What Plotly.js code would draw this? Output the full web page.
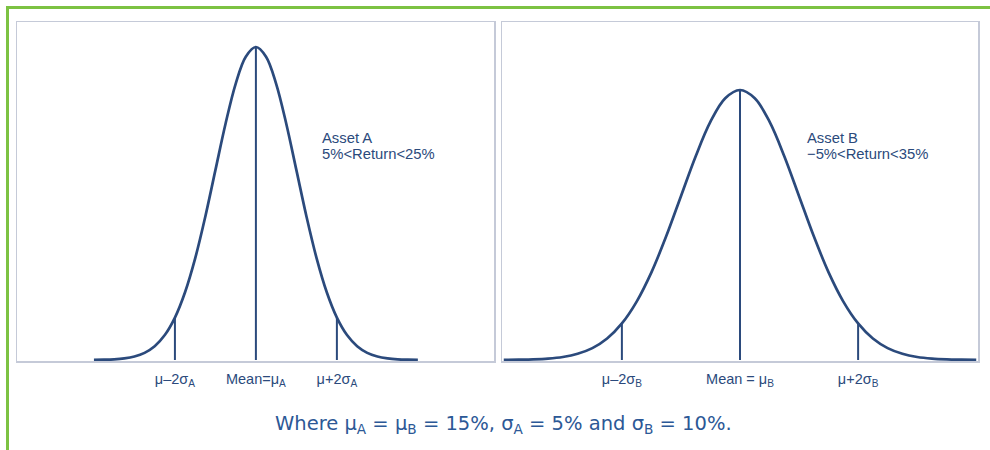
<!DOCTYPE html>
<html>
<head>
<meta charset="utf-8">
<script src="https://cdn.plot.ly/plotly-3.0.1.min.js"></script>
<style>
html,body{margin:0;padding:0;background:#fff;}
#chart{width:990px;height:450px;}
</style>
</head>
<body>
<div id="chart"></div>
<script>
// Returns (%) for Asset A (mu=15, sigma=5) and density values
var returnsA = [-5,-3.75,-2.5,-1.25,0,1.25,2.5,3.75,5,6.25,7.5,8.75,10,11.25,12.5,13.75,15,16.25,17.5,18.75,20,21.25,22.5,23.75,25,26.25,27.5,28.75,30,31.25,32.5,33.75,35];
var densityA = [0.00003,0.00007,0.00017,0.00041,0.00089,0.00182,0.00351,0.00635,0.01080,0.01726,0.02590,0.03653,0.04839,0.06023,0.07041,0.07733,0.07979,0.07733,0.07041,0.06023,0.04839,0.03653,0.02590,0.01726,0.01080,0.00635,0.00351,0.00182,0.00089,0.00041,0.00017,0.00007,0.00003];
// Returns (%) for Asset B (mu=15, sigma=10)
var returnsB = [-25,-22.5,-20,-17.5,-15,-12.5,-10,-7.5,-5,-2.5,0,2.5,5,7.5,10,12.5,15,17.5,20,22.5,25,27.5,30,32.5,35,37.5,40,42.5,45,47.5,50,52.5,55];
var densityB = [0.00001,0.00004,0.00009,0.00020,0.00044,0.00091,0.00175,0.00317,0.00540,0.00863,0.01295,0.01827,0.02420,0.03011,0.03521,0.03867,0.03989,0.03867,0.03521,0.03011,0.02420,0.01827,0.01295,0.00863,0.00540,0.00317,0.00175,0.00091,0.00044,0.00020,0.00009,0.00004,0.00001];
// Marker lines at mu-2sigma, mu, mu+2sigma
var markXA = [5, 15, 25];
var markYA = [0.01080, 0.07979, 0.01080];
var markXB = [-5, 15, 35];
var markYB = [0.00540, 0.03989, 0.00540];
var tickTextA = ["\u03bc\u20132\u03c3<sub>A</sub>", "Mean=\u03bc<sub>A</sub>", "\u03bc+2\u03c3<sub>A</sub>"];
var tickTextB = ["\u03bc\u20132\u03c3<sub>B</sub>", "Mean = \u03bc<sub>B</sub>", "\u03bc+2\u03c3<sub>B</sub>"];
var labelA = ["Asset A", "5%&lt;Return&lt;25%"];
var labelB = ["Asset B", "\u22125%&lt;Return&lt;35%"];
var caption = "Where \u03bc<sub>A</sub> = \u03bc<sub>B</sub> = 15%, \u03c3<sub>A</sub> = 5% and \u03c3<sub>B</sub> = 10%.";

var navy = '#2b4a7c';
var traces = [];
traces.push({x: returnsA, y: densityA, xaxis:'x', yaxis:'y', mode:'lines', line:{color:navy, width:2.7, shape:'spline'}, hoverinfo:'skip'});
traces.push({x: returnsB, y: densityB, xaxis:'x2', yaxis:'y2', mode:'lines', line:{color:navy, width:2.7, shape:'spline'}, hoverinfo:'skip'});
for (var i = 0; i < markXA.length; i++) {
  traces.push({x:[markXA[i], markXA[i]], y:[0, markYA[i]], xaxis:'x', yaxis:'y', mode:'lines', line:{color:navy, width:2}, hoverinfo:'skip'});
}
for (var j = 0; j < markXB.length; j++) {
  traces.push({x:[markXB[j], markXB[j]], y:[0, markYB[j]], xaxis:'x2', yaxis:'y2', mode:'lines', line:{color:navy, width:2}, hoverinfo:'skip'});
}

var W = 990, H = 450;
function px(v){return v / W;}
function py(v){return (H - v) / H;}
var frameColor = '#c5cad8';
var labelFamily = 'Liberation Sans, Arial, sans-serif';
var tickFont = {family:labelFamily, size:14.5, color:navy};

var axisBase = {showgrid:false, zeroline:false, showline:true, mirror:true, linecolor:frameColor, linewidth:1.5};
function label(txt, x, y) {
  return {xref:'paper', yref:'paper', x:px(x), y:py(y), xanchor:'left', yanchor:'middle', align:'left', showarrow:false, text:txt, font:{family:labelFamily, size:14.8, color:navy}};
}
var layout = {
  width: W, height: H,
  margin:{l:0, r:0, t:0, b:0},
  paper_bgcolor:'#ffffff', plot_bgcolor:'#ffffff',
  showlegend:false,
  xaxis: Object.assign({}, axisBase, {domain:[px(17), px(494)], range:[-14.5, 44.4], tickmode:'array', tickvals: markXA, ticktext: tickTextA, ticks:'outside', ticklen:4, tickcolor:'rgba(0,0,0,0)', tickfont:tickFont}),
  yaxis: Object.assign({}, axisBase, {domain:[py(361), py(22)], range:[-0.00026, 0.08616], showticklabels:false, ticks:''}),
  xaxis2: Object.assign({}, axisBase, {anchor:'y2', domain:[px(502), px(978)], range:[-25.3, 55.3], tickmode:'array', tickvals: markXB, ticktext: tickTextB, ticks:'outside', ticklen:4, tickcolor:'rgba(0,0,0,0)', tickfont:tickFont}),
  yaxis2: Object.assign({}, axisBase, {anchor:'x2', domain:[py(361), py(22)], range:[-0.00015, 0.04994], showticklabels:false, ticks:''}),
  shapes: [
    {type:'line', xref:'paper', yref:'paper', x0:px(6), x1:px(990), y0:py(7.5), y1:py(7.5), line:{color:'#7cc242', width:3}},
    {type:'line', xref:'paper', yref:'paper', x0:px(7.5), x1:px(7.5), y0:py(6), y1:py(450), line:{color:'#7cc242', width:3}}
  ],
  annotations: [
    label(labelA[0], 320, 137.5),
    label(labelA[1], 320, 154),
    label(labelB[0], 805, 137.5),
    label(labelB[1], 805, 154),
    {xref:'paper', yref:'paper', x:px(504), y:py(424), xanchor:'center', yanchor:'middle', showarrow:false, text:caption, font:{family:'DejaVu Sans, Open Sans, sans-serif', size:19.5, color:'#2c5896'}}
  ]
};

Plotly.newPlot('chart', traces, layout, {staticPlot:true, displayModeBar:false});
</script>
</body>
</html>
